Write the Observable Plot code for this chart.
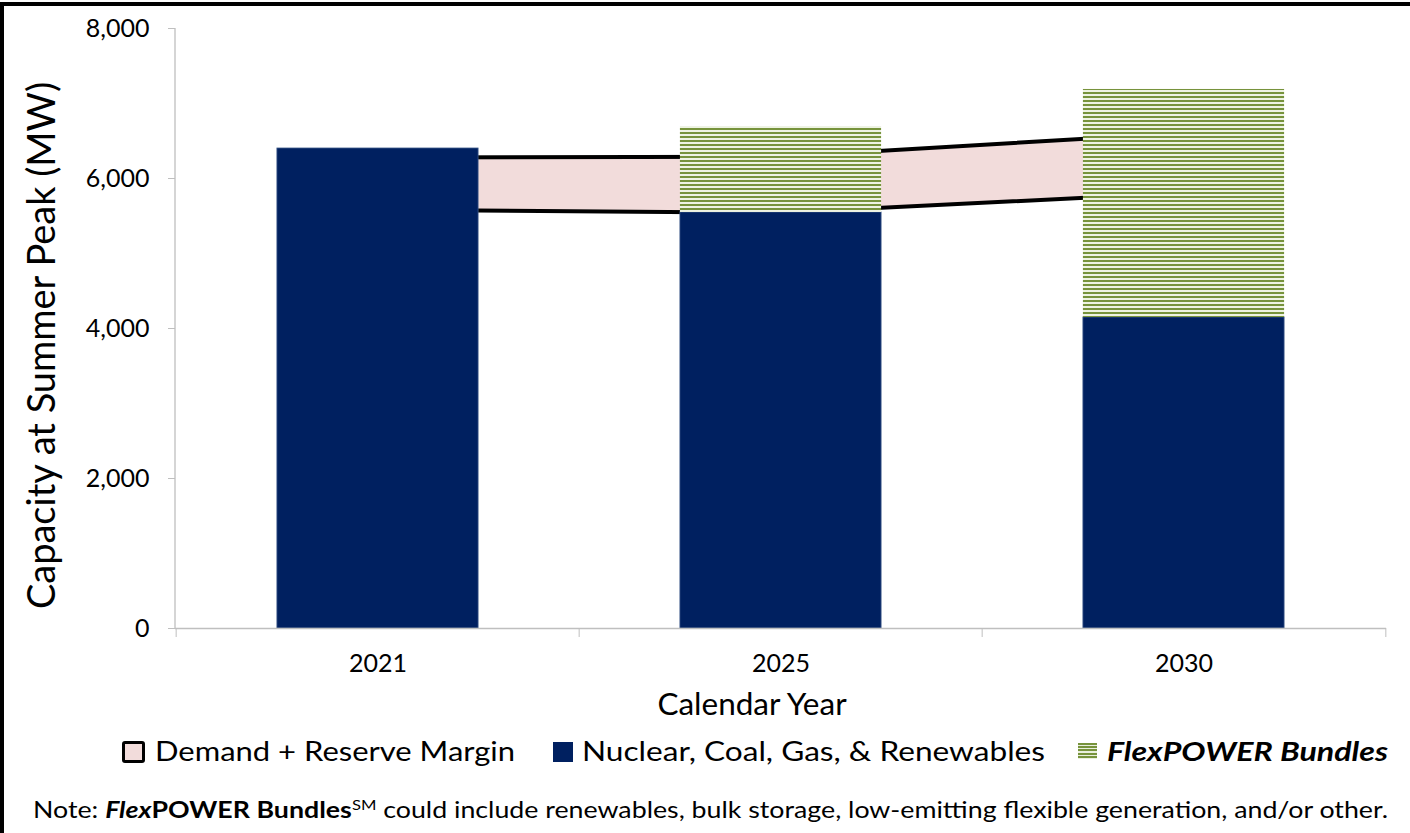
<!DOCTYPE html>
<html>
<head>
<meta charset="utf-8">
<script src="https://cdn.jsdelivr.net/npm/d3@7"></script>
<script src="https://cdn.jsdelivr.net/npm/@observablehq/plot@0.6"></script>
<style>
  html, body { margin: 0; padding: 0; background: #fff; }
  body { width: 1410px; height: 833px; position: relative; overflow: hidden; font-family: Lato, "Open Sans", sans-serif; color: #000; }
  #frame { position: absolute; left: 0; top: 2px; width: 1410px; height: 840px; border-top: 4px solid #000; border-left: 4px solid #000; box-sizing: border-box; pointer-events: none; }
  #chart { position: absolute; left: 0; top: 0; }
  #legend { position: absolute; left: 0; top: 0; width: 1410px; height: 833px; pointer-events: none; }
  .sw { position: absolute; box-sizing: border-box; }
  .lab { position: absolute; top: 733px; height: 36px; line-height: 36px; font-size: 27px; white-space: nowrap; transform-origin: 0 50%; }
  #note { position: absolute; left: 33px; top: 795px; height: 30px; line-height: 30px; font-size: 22.5px; white-space: nowrap; transform-origin: 0 50%; }
</style>
</head>
<body>
<div id="chart"></div>
<div id="legend"></div>
<div id="note"></div>
<div id="frame"></div>
<script>
// ---- data ----
const years = ["2021", "2025", "2030"];
const baseCapacity = [6400, 5547, 4147];          // Nuclear, Coal, Gas, & Renewables
const flexPower = [0, 1146, 3040];                // FlexPOWER Bundles (stacked on top)
const demandLow = [5584, 5543, 5809];             // Demand
const demandHigh = [6280, 6290, 6608];            // Demand + Reserve Margin
const yTicks = [0, 2000, 4000, 6000, 8000];
const legendLabels = ["Demand + Reserve Margin", "Nuclear, Coal, Gas, & Renewables", "FlexPOWER Bundles"];

const navy = "#002060";
const green = "#77933c";
const pink = "#f2dcdb";
const axisGray = "#bfbfbf";

const rows = years.map((year, i) => ({
  year,
  base: baseCapacity[i],
  top: baseCapacity[i] + flexPower[i],
  flex: flexPower[i],
  low: demandLow[i],
  high: demandHigh[i]
}));

const W = 1410, H = 720, mL = 175, mR = 24, mT = 28, mB = 92;
const bw = (W - mL - mR) / years.length;
const inset = bw / 4;

const plot = Plot.plot({
  width: W, height: H,
  marginLeft: mL, marginRight: mR, marginTop: mT, marginBottom: mB,
  style: { fontFamily: "Lato, 'Open Sans', sans-serif", color: "#000", background: "transparent" },
  x: { type: "band", domain: years, padding: 0, axis: null },
  y: { domain: [0, 8000], axis: null },
  marks: [
    // demand band
    Plot.areaY(rows, { x: "year", y1: "low", y2: "high", fill: pink }),
    Plot.lineY(rows, { x: "year", y: "high", stroke: "#000", strokeWidth: 4 }),
    Plot.lineY(rows, { x: "year", y: "low", stroke: "#000", strokeWidth: 4 }),
    // bars
    Plot.barY(rows, { x: "year", y1: 0, y2: "base", fill: navy, stroke: "#3d5a8a", strokeWidth: 0.8, insetLeft: inset, insetRight: inset }),
    Plot.barY(rows.filter(d => d.flex > 0), { x: "year", y1: "base", y2: "top", fill: "url(#hatch)", insetLeft: inset, insetRight: inset }),
    // axes
    Plot.ruleY([0], { stroke: axisGray, strokeWidth: 1.3 }),
    Plot.axisY({ ticks: yTicks, tickSize: 7, tickPadding: 19, stroke: axisGray, tickFormat: d3.format(","), fontSize: 25, label: null }),
    Plot.axisX({ ticks: years, tickSize: 9, dx: -bw / 2, stroke: axisGray, tickFormat: () => "", label: null }),
    Plot.axisX({ ticks: [years[years.length - 1]], tickSize: 9, dx: bw / 2, stroke: axisGray, tickFormat: () => "", label: null }),
    Plot.axisX({ ticks: years, tickSize: 0, tickPadding: 26, fontSize: 25, label: null }),
    Plot.text(["Calendar Year"], { frameAnchor: "bottom", dx: -29, dy: 86, fontSize: 31.5, fill: "#000" }),
    Plot.text(["Capacity at Summer Peak (MW)"], { frameAnchor: "left", textAnchor: "middle", rotate: -90, dx: -133, dy: 17, fontSize: 38, fill: "#000" })
  ]
});

// hatch pattern
const svgSel = d3.select(plot);
const defs = svgSel.insert("defs", ":first-child");
const pat = defs.append("pattern").attr("id", "hatch").attr("patternUnits", "userSpaceOnUse").attr("width", 8).attr("height", 4);
pat.append("rect").attr("x", 0).attr("y", 0).attr("width", 8).attr("height", 4).attr("fill", "#eef3e3");
pat.append("rect").attr("x", 0).attr("y", 0).attr("width", 8).attr("height", 2).attr("fill", green);

// y axis line
svgSel.append("line").attr("x1", mL).attr("x2", mL).attr("y1", mT).attr("y2", H - mB).attr("stroke", axisGray).attr("stroke-width", 1.3);

document.getElementById("chart").appendChild(plot);

// legend
const legend = document.getElementById("legend");
const swatchBox = [
  { x: 122, y: 741, w: 23, h: 22, css: `background:${pink};border:3px solid #000;border-radius:3px;` },
  { x: 553, y: 742, w: 20, h: 20, css: `background:${navy};` },
  { x: 1078, y: 743, w: 19, h: 16, css: `background:repeating-linear-gradient(to bottom, ${green} 0 2px, #e9efdc 2px 3.2px);` }
];
const labelSpan = [[155, 515], [582, 1045], [1107, 1388]];
const fitters = [];
legendLabels.forEach((lab, i) => {
  const b = swatchBox[i];
  const sw = document.createElement("span");
  sw.className = "sw";
  sw.style.cssText = b.css;
  sw.style.left = b.x + "px"; sw.style.top = b.y + "px";
  sw.style.width = b.w + "px"; sw.style.height = b.h + "px";
  const tx = document.createElement("span");
  tx.className = "lab";
  tx.style.left = labelSpan[i][0] + "px";
  tx.textContent = lab;
  if (i === 2) { tx.style.fontWeight = "bold"; tx.style.fontStyle = "italic"; }
  legend.appendChild(sw); legend.appendChild(tx);
  fitters.push([tx, labelSpan[i][1] - labelSpan[i][0]]);
});

// note
const note = document.getElementById("note");
note.innerHTML =
  'Note: <b><i>Flex</i>POWER Bundles</b><sup style="font-size:14px;line-height:0">SM</sup> could include renewables, bulk storage, low-emitting flexible generation, and/or other.';
fitters.push([note, 1388 - 33]);

function fit() {
  fitters.forEach(([el, target]) => {
    el.style.transform = "none";
    const w = el.getBoundingClientRect().width;
    if (w > 0) el.style.transform = `scaleX(${target / w})`;
  });
}
fit();
if (document.fonts && document.fonts.ready) document.fonts.ready.then(fit);
</script>
</body>
</html>
